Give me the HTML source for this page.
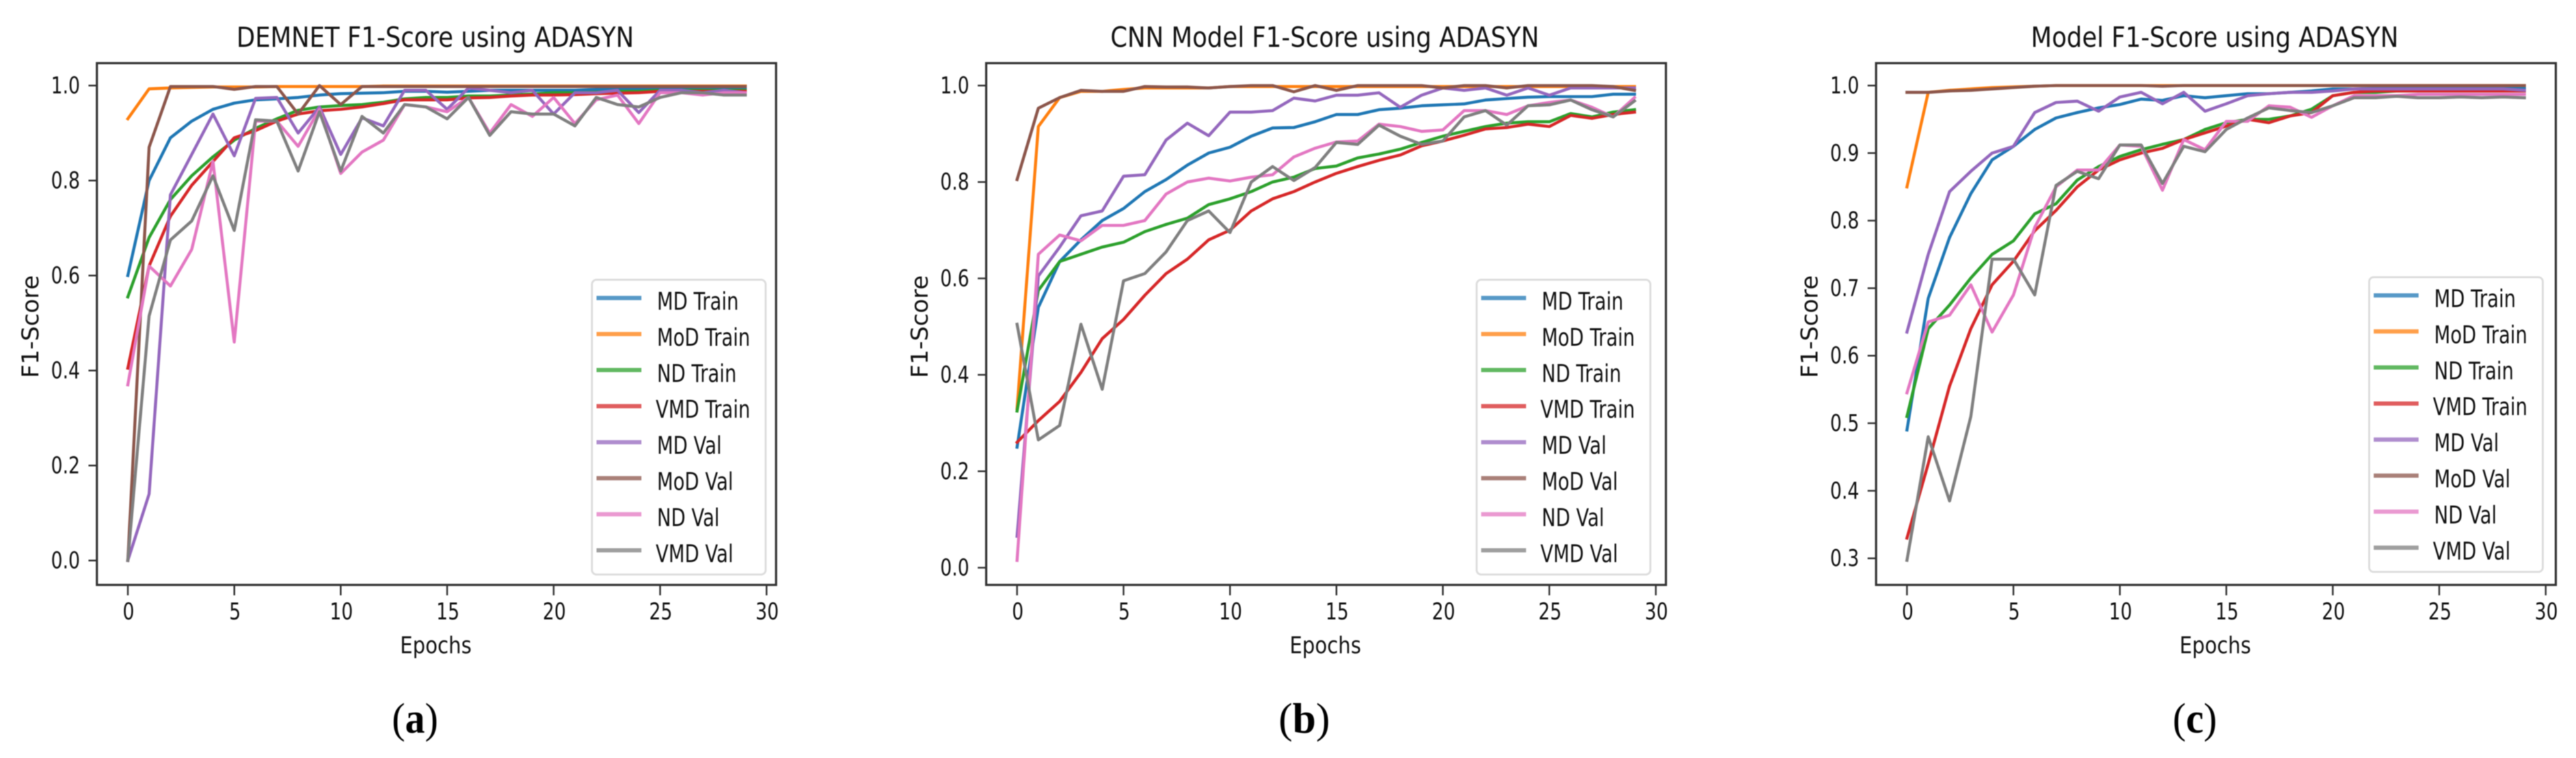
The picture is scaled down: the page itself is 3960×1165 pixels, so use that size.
<!DOCTYPE html>
<html lang="en">
<head>
<meta charset="utf-8">
<title>F1-Score using ADASYN</title>
<style>
html,body{margin:0;padding:0;background:#fff;width:3960px;height:1165px;overflow:hidden}
svg{display:block;position:absolute;left:0;top:0}
#soft{filter:blur(0.9px)}
text{font-family:"DejaVu Sans","Liberation Sans",sans-serif;fill:#111}
.cap{font-family:"Liberation Serif",serif;fill:#000}
</style>
</head>
<body>
<svg id="figure" width="3960" height="1165" viewBox="0 0 3960 1165" xmlns="http://www.w3.org/2000/svg">
<g id="soft"></g>
</svg>
<script>
// Shared categories and labels
const epochs = Array.from({length:30},(_,i)=>i);
const xTickValues = [0,5,10,15,20,25,30];
const seriesNames = ["MD Train","MoD Train","ND Train","VMD Train","MD Val","MoD Val","ND Val","VMD Val"];

// (a) DEMNET
const aMdTrain  = [.60,.80,.89,.925,.95,.963,.97,.972,.975,.98,.983,.984,.985,.988,.988,.986,.988,.99,.99,.99,.99,.99,.992,.992,.992,.993,.993,.994,.994,.994];
const aModTrain = [.93,.993,.995,.996,.997,.997,.997,.998,.998,.998,.998,.998,.999,.999,.999,.999,.999,.999,.999,.999,.999,.999,.999,.999,.999,.999,.999,.999,.999,.999];
const aNdTrain  = [.555,.68,.76,.81,.85,.885,.91,.93,.948,.955,.958,.96,.965,.972,.975,.975,.978,.978,.98,.982,.985,.985,.986,.988,.988,.99,.99,.99,.99,.99];
const aVmdTrain = [.405,.62,.725,.79,.84,.89,.905,.925,.94,.947,.95,.955,.962,.97,.97,.97,.974,.975,.978,.98,.98,.981,.983,.984,.985,.988,.988,.988,.988,.988];
const aMdVal    = [0,.14,.77,.855,.94,.852,.973,.975,.90,.955,.855,.932,.915,.99,.99,.95,.995,.99,.985,.99,.94,.985,.985,.99,.943,.99,.99,.985,.99,.985];
const aModVal   = [0,.87,.998,.998,.998,.992,.998,.998,.94,1,.96,.998,.998,.998,.998,.998,.998,.998,.998,.998,.998,.998,.998,.998,.998,.998,.998,.998,.998,.998];
const aNdVal    = [.37,.62,.578,.655,.84,.46,.925,.925,.872,.95,.815,.86,.885,.96,.955,.945,.975,.90,.96,.935,.975,.92,.97,.98,.92,.985,.985,.98,.985,.985];
const aVmdVal   = [0,.515,.675,.715,.81,.695,.928,.925,.82,.945,.82,.935,.90,.96,.955,.93,.975,.895,.945,.94,.94,.915,.975,.96,.955,.975,.985,.985,.98,.98];
const aYTicks   = [0,.2,.4,.6,.8,1];

// (b) CNN Model
const bMdTrain  = [.25,.54,.635,.68,.72,.745,.78,.805,.835,.86,.872,.895,.912,.913,.925,.94,.94,.95,.953,.958,.96,.962,.97,.973,.976,.977,.977,.977,.982,.982];
const bModTrain = [.33,.915,.975,.988,.988,.992,.995,.995,.995,.995,.998,.998,.998,.998,.998,.998,.998,.998,.998,.998,.998,.998,.998,.998,.998,.998,.998,.998,.998,.998];
const bNdTrain  = [.325,.575,.635,.65,.665,.675,.697,.712,.725,.753,.765,.78,.80,.81,.828,.833,.85,.858,.868,.882,.895,.905,.915,.922,.925,.925,.942,.935,.945,.95];
const bVmdTrain = [.26,.305,.345,.405,.475,.515,.565,.61,.64,.68,.70,.74,.765,.78,.80,.818,.832,.845,.856,.875,.885,.897,.91,.913,.92,.915,.938,.932,.94,.945];
const bMdVal    = [.065,.605,.665,.73,.74,.812,.815,.887,.922,.896,.945,.945,.948,.974,.968,.98,.98,.985,.955,.98,.995,.99,.995,.98,.995,.98,.995,.995,.995,.995];
const bModVal   = [.805,.953,.975,.99,.988,.988,.998,.997,.997,.995,.998,1,1,.987,1,.99,1,1,1,1,.995,1,1,.995,1,1,1,1,.998,.99];
const bNdVal    = [.015,.65,.69,.678,.71,.71,.72,.775,.80,.808,.802,.81,.815,.852,.87,.883,.885,.92,.915,.905,.908,.948,.948,.94,.958,.965,.97,.955,.935,.975];
const bVmdVal   = [.505,.265,.295,.505,.37,.595,.61,.655,.72,.74,.695,.80,.832,.803,.83,.882,.878,.918,.895,.878,.885,.935,.948,.918,.958,.96,.97,.95,.935,.968];
const bYTicks   = [0,.2,.4,.6,.8,1];

// (c) Model
const cMdTrain  = [.49,.685,.775,.84,.89,.91,.935,.952,.96,.967,.972,.98,.978,.985,.982,.985,.988,.988,.99,.992,.995,.995,.996,.996,.997,.997,.997,.997,.997,.997];
const cModTrain = [.85,.99,.993,.995,.997,.998,.999,1,1,1,1,1,1,1,1,1,1,1,1,1,1,1,1,1,1,1,1,1,1,1];
const cNdTrain  = [.51,.64,.675,.715,.75,.77,.81,.825,.86,.88,.895,.905,.913,.92,.935,.945,.95,.95,.955,.965,.985,.99,.99,.992,.992,.992,.992,.992,.992,.992];
const cVmdTrain = [.33,.44,.555,.64,.705,.74,.785,.815,.85,.875,.89,.90,.907,.92,.93,.94,.95,.945,.955,.96,.985,.99,.992,.992,.992,.992,.992,.992,.992,.992];
const cMdVal    = [.635,.75,.843,.873,.90,.91,.96,.975,.977,.962,.983,.99,.973,.99,.962,.973,.985,.988,.99,.99,.992,.995,.995,.995,.995,.995,.995,.995,.995,.993];
const cModVal   = [.99,.99,.992,.993,.995,.997,.999,1,1,1,1,1,.999,1,1,1,1,1,1,1,1,1,1,1,1,1,1,1,1,1];
const cNdVal    = [.545,.65,.66,.705,.635,.69,.79,.85,.875,.875,.912,.91,.845,.92,.905,.947,.947,.97,.968,.953,.97,.985,.985,.985,.987,.987,.987,.987,.987,.987];
const cVmdVal   = [.297,.48,.385,.51,.743,.743,.69,.852,.873,.862,.912,.912,.855,.91,.902,.935,.952,.967,.963,.96,.97,.982,.982,.984,.982,.982,.983,.982,.983,.982];
const cYTicks   = [.3,.4,.5,.6,.7,.8,.9,1];

const chartTitles = ["DEMNET F1-Score using ADASYN","CNN Model F1-Score using ADASYN","Model F1-Score using ADASYN"];
const captionLetters = ["a","b","c"];
const colors = ["#1f77b4","#ff7f0e","#2ca02c","#d62728","#9467bd","#8c564b","#e377c2","#7f7f7f"];
const NS = "http://www.w3.org/2000/svg";
const root = document.getElementById("soft");
const SX = 0.78;

function add(parent, tag, attrs){
  const el = document.createElementNS(NS, tag);
  for (const k in attrs) el.setAttribute(k, attrs[k]);
  parent.appendChild(el);
  return el;
}
function addText(parent, str, x, y, size, anchor, fixedLen, rot){
  const t = add(parent, "text", {x:x, y:y, "font-size":size, "text-anchor":anchor});
  t.textContent = str;
  const w = t.getComputedTextLength();
  t.setAttribute("textLength", fixedLen || (w*SX));
  t.setAttribute("lengthAdjust", "spacingAndGlyphs");
  if (rot) t.setAttribute("transform", "rotate(-90 "+x+" "+y+")");
  return t;
}

function drawChart(cfg){
  const g = add(root, "g", {});
  
  
  const xOf = v => cfg.left + 47.5 + 32.73*v;
  const yOf = v => cfg.yOne + (1-v)*cfg.yUnit;
  const midX = (cfg.left+cfg.right)/2;

  const title = addText(g, cfg.title, midX-2, 72, 43, "middle", cfg.titleLen);
  
  

  cfg.series.forEach((vals,i)=>{
    const pts = epochs.map(e => xOf(e).toFixed(1)+","+yOf(vals[e]).toFixed(1)).join(" ");
    const line = add(g, "polyline", {points:pts, fill:"none", stroke:colors[i], "stroke-width":4.6, "stroke-linejoin":"round", "stroke-linecap":"square"});
    
    
  });

  const frame = add(g, "rect", {x:cfg.left, y:97, width:cfg.right-cfg.left, height:802, fill:"none", stroke:"#333", "stroke-width":3.4});
  
  

  xTickValues.forEach(v=>{
    const x = xOf(v);
    const tick = add(g, "line", {x1:x, x2:x, y1:899, y2:915, stroke:"#333", "stroke-width":2.6});
    
    
    const lab = addText(g, String(v), x+1, 952, 36, "middle");
    
    
  });
  cfg.yTicks.forEach(v=>{
    const y = yOf(v);
    const tick = add(g, "line", {x1:cfg.left-13, x2:cfg.left, y1:y, y2:y, stroke:"#333", "stroke-width":2.6});
    
    
    const lab = addText(g, v.toFixed(1), cfg.left-26, y+12, 36, "end");
    
    
  });

  const xl = addText(g, "Epochs", midX-1, 1004, 36, "middle", 110);
  
  
  const yl = addText(g, "F1-Score", cfg.left-90, 502, 36, "middle", 158, true);
  
  

  const lg = add(g, "g", {});
  
  
  const box = add(lg, "rect", {x:cfg.legX, y:cfg.legY, width:267, height:453, rx:7, fill:"#fff", stroke:"#dcdcdc", "stroke-width":3});
  
  
  seriesNames.forEach((name,i)=>{
    const y = cfg.legY + 28 + i*55.4;
    const swatch = add(lg, "line", {x1:cfg.legX+7, x2:cfg.legX+76, y1:y, y2:y, stroke:colors[i], "stroke-opacity":.75, "stroke-width":6.5});
    
    
    const lab = addText(lg, name, cfg.legX+ (name[0]==="V"?98:100), y+18, 37, "start");
    
    
  });

  const cap = add(g, "text", {x:cfg.capX, y:1126, "font-size":66, "text-anchor":"middle", "class":"cap", textLength:cfg.capW, lengthAdjust:"spacingAndGlyphs"});
  
  
  cap.appendChild(document.createTextNode("("));
  const b = add(cap, "tspan", {"font-weight":"bold"});
  b.textContent = cfg.letter;
  cap.appendChild(document.createTextNode(")"));
}

drawChart({key:"demnet", title:chartTitles[0], letter:captionLetters[0], left:149, right:1193, yOne:131.5, yUnit:730, yTicks:aYTicks, legX:910, legY:430, capX:638, capW:71, titleLen:611,
  series:[aMdTrain,aModTrain,aNdTrain,aVmdTrain,aMdVal,aModVal,aNdVal,aVmdVal]});
drawChart({key:"cnn", title:chartTitles[1], letter:captionLetters[1], left:1516, right:2561, yOne:131.5, yUnit:741, yTicks:bYTicks, legX:2270, legY:430, capX:2005, capW:79, titleLen:659,
  series:[bMdTrain,bModTrain,bNdTrain,bVmdTrain,bMdVal,bModVal,bNdVal,bVmdVal]});
drawChart({key:"model", title:chartTitles[2], letter:captionLetters[2], left:2884, right:3929, yOne:131.5, yUnit:1038, yTicks:cYTicks, legX:3642, legY:426, capX:3374, capW:68, titleLen:565,
  series:[cMdTrain,cModTrain,cNdTrain,cVmdTrain,cMdVal,cModVal,cNdVal,cVmdVal]});
</script>
</body>
</html>
